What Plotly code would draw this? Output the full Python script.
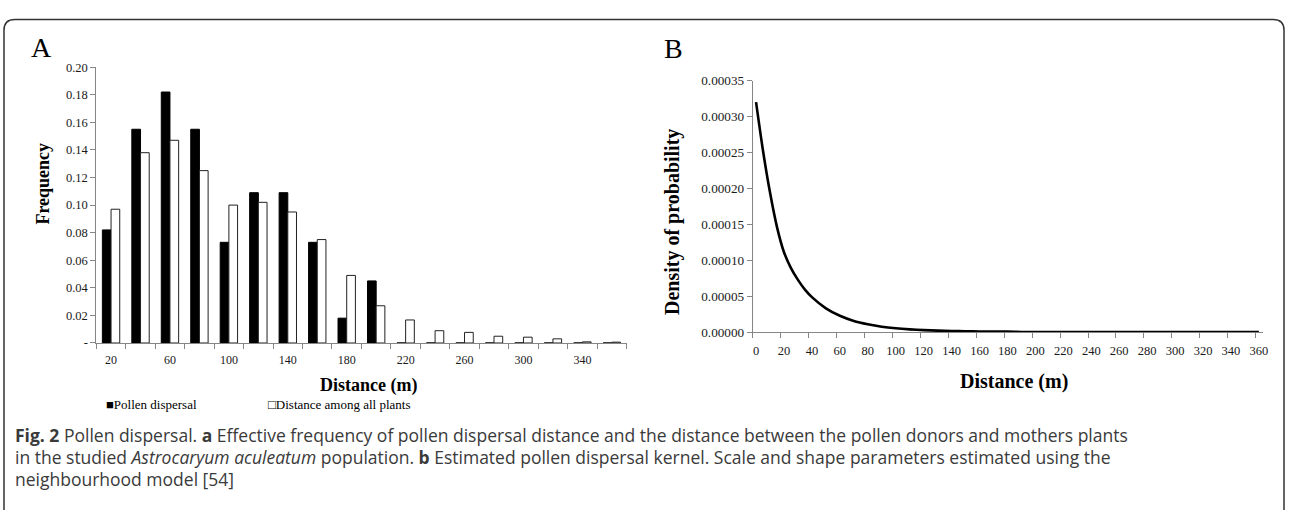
import plotly.graph_objects as go

# ---------------- data ----------------
# Panel A: frequency histogram (distance classes in m)
dist_classes = [20, 40, 60, 80, 100, 120, 140, 160, 180, 200, 220, 240, 260, 280, 300, 320, 340, 360]
pollen_dispersal = [0.082, 0.155, 0.182, 0.155, 0.073, 0.109, 0.109, 0.073, 0.018, 0.045,
                    0, 0, 0, 0, 0, 0, 0, 0]
distance_all_plants = [0.097, 0.138, 0.147, 0.125, 0.100, 0.102, 0.095, 0.075, 0.049, 0.027,
                       0.0167, 0.0089, 0.0077, 0.0049, 0.0042, 0.0030, 0.0008, 0.0006]
a_tick_vals = [0, 0.02, 0.04, 0.06, 0.08, 0.10, 0.12, 0.14, 0.16, 0.18, 0.20]
a_tick_text = ["-", "0.02", "0.04", "0.06", "0.08", "0.10", "0.12", "0.14", "0.16", "0.18", "0.20"]
a_x_labels = [20, 60, 100, 140, 180, 220, 260, 300, 340]

# Panel B: estimated pollen dispersal kernel
kernel_x = [0, 5, 10, 15, 20, 25, 30, 35, 40, 50, 60, 70, 80, 90, 100, 110, 120, 130, 140, 150,
            160, 170, 180, 190, 200, 220, 240, 260, 280, 300, 320, 340, 360]
kernel_y = [0.000320, 0.000252, 0.000194, 0.000146, 0.000111, 0.0000890, 0.0000725, 0.0000590,
            0.0000485, 0.0000330, 0.0000226, 0.0000154, 0.0000108, 0.0000074, 0.0000052,
            0.0000037, 0.0000026, 0.0000019, 0.0000014, 0.0000011, 0.0000008, 0.0000006,
            0.0000005, 0.0000001, 0.0, 0.0, 0.0, 0.0, 0.0, 0.0, 0.0, 0.0, 0.0]
b_x_ticks = list(range(0, 361, 20))
b_y_ticks = [0, 0.00005, 0.00010, 0.00015, 0.00020, 0.00025, 0.00030, 0.00035]

W, H = 1292, 518
def px(x):
    return x / W
def py(y):
    return 1 - y / H

SERIF = "Liberation Serif, Times New Roman, serif"
AXIS_GRAY = "#868686"
TEXT = "#1a1a1a"
B_TICK_OFFSET = 2.35  # tick marks sit slightly left of the category labels

fig = go.Figure()

fig.add_trace(go.Bar(
    x=dist_classes, y=pollen_dispersal, name="Pollen dispersal",
    marker=dict(color="#000000", line=dict(color="#000000", width=1)),
    xaxis="x", yaxis="y", showlegend=False,
))
fig.add_trace(go.Bar(
    x=dist_classes, y=distance_all_plants, name="Distance among all plants",
    marker=dict(color="#ffffff", line=dict(color="#222222", width=1)),
    xaxis="x", yaxis="y", showlegend=False,
))
fig.add_trace(go.Scatter(
    x=kernel_x, y=kernel_y, mode="lines", line=dict(color="#000000", width=2.6, shape="spline", smoothing=0.8),
    xaxis="x2", yaxis="y2", showlegend=False, name="Kernel",
))

fig.update_layout(
    width=W, height=H,
    margin=dict(l=0, r=0, t=0, b=0),
    paper_bgcolor="white", plot_bgcolor="white",
    barmode="group", bargap=0.41, bargroupgap=0,
    font=dict(family=SERIF, color=TEXT),
    xaxis=dict(
        domain=[px(96.7), px(629)], range=[10, 370], anchor="y",
        showgrid=False, zeroline=False, showline=True, linecolor=AXIS_GRAY, linewidth=1,
        tickmode="array", tickvals=a_x_labels, ticktext=[str(v) for v in a_x_labels],
        ticks="outside", ticklen=6, tickcolor="rgba(0,0,0,0)",
        tickfont=dict(family=SERIF, size=12, color=TEXT),
        minor=dict(tickvals=list(range(10, 371, 20)), ticks="outside", ticklen=5,
                   tickcolor=AXIS_GRAY, showgrid=False),
    ),
    yaxis=dict(
        domain=[py(346), py(62)], range=[0, 0.20], anchor="x",
        showgrid=False, zeroline=False, showline=True, linecolor=AXIS_GRAY, linewidth=1,
        tickmode="array", tickvals=a_tick_vals, ticktext=a_tick_text,
        ticks="outside", ticklen=5, tickcolor=AXIS_GRAY,
        tickfont=dict(family=SERIF, size=12.5, color=TEXT),
    ),
    xaxis2=dict(
        domain=[px(755.7), px(1268)], range=[-B_TICK_OFFSET, 363], anchor="y2",
        showgrid=False, zeroline=False, showline=True, linecolor=AXIS_GRAY, linewidth=1,
        tickmode="array", tickvals=b_x_ticks,
        ticks="outside", ticklen=7, tickcolor="rgba(0,0,0,0)",
        tickfont=dict(family=SERIF, size=12.5, color=TEXT),
        minor=dict(tickvals=[v - B_TICK_OFFSET for v in b_x_ticks], ticks="outside", ticklen=5,
                   tickcolor=AXIS_GRAY, showgrid=False),
    ),
    yaxis2=dict(
        domain=[py(334.7), py(75.7)], range=[0, 0.00035], anchor="x2",
        showgrid=False, zeroline=False, showline=True, linecolor=AXIS_GRAY, linewidth=1,
        tickmode="array", tickvals=b_y_ticks, tickformat=".5f",
        ticks="outside", ticklen=5, tickcolor=AXIS_GRAY,
        tickfont=dict(family=SERIF, size=13.2, color=TEXT),
    ),
)

# outer rounded frame
r = 11
x0, x1, y0, y1 = 4, 1289, 13, 518
path = (f"M {px(x0)},{py(y1)} L {px(x0)},{py(y0 + r)} Q {px(x0)},{py(y0)} {px(x0 + r)},{py(y0)} "
        f"L {px(x1 - r)},{py(y0)} Q {px(x1)},{py(y0)} {px(x1)},{py(y0 + r)} L {px(x1)},{py(y1)}")
fig.add_shape(type="path", path=path, xref="paper", yref="paper",
              line=dict(color="#333333", width=1.5))

ann = []
# panel letters
ann.append(dict(text="A", x=px(29), y=py(42), xanchor="left", yanchor="middle",
                font=dict(family=SERIF, size=28, color="#000")))
ann.append(dict(text="B", x=px(665), y=py(43), xanchor="left", yanchor="middle",
                font=dict(family=SERIF, size=28, color="#000")))
# axis titles
ann.append(dict(text="<b>Frequency</b>", x=px(43), y=py(182), textangle=-90,
                xanchor="center", yanchor="middle", font=dict(family=SERIF, size=18, color="#000")))
ann.append(dict(text="<b>Distance (m)</b>", x=px(370), y=py(390),
                xanchor="center", yanchor="middle", font=dict(family=SERIF, size=18, color="#000")))
ann.append(dict(text="<b>Density of probability</b>", x=px(675), y=py(221), textangle=-90,
                xanchor="center", yanchor="middle", font=dict(family=SERIF, size=20, color="#000")))
ann.append(dict(text="<b>Distance (m)</b>", x=px(1018), y=py(386),
                xanchor="center", yanchor="middle", font=dict(family=SERIF, size=20, color="#000")))
# legend
ann.append(dict(text="\u25A0Pollen dispersal", x=px(104), y=py(409), xanchor="left", yanchor="middle",
                font=dict(family=SERIF, size=13, color="#000")))
ann.append(dict(text="\u25A1Distance among all plants", x=px(267), y=py(409), xanchor="left", yanchor="middle",
                font=dict(family=SERIF, size=13, color="#000")))
# caption
CAP = "Open Sans, Noto Sans, sans-serif"
cap_lines = [
    "<b>Fig. 2</b> Pollen dispersal. <b>a</b> Effective frequency of pollen dispersal distance and the distance between the pollen donors and mothers plants",
    "in the studied <i>Astrocaryum aculeatum</i> population. <b>b</b> Estimated pollen dispersal kernel. Scale and shape parameters estimated using the",
    "neighbourhood model [54]",
]
for i, line in enumerate(cap_lines):
    ann.append(dict(text=line, x=px(13), y=py(441 + 22.5 * i), xanchor="left", yanchor="middle",
                    font=dict(family=CAP, size=17.5, color="#3a3a3a")))

for a in ann:
    a.update(xref="paper", yref="paper", showarrow=False)
fig.update_layout(annotations=ann)

fig.write_html("out.html", config={"displayModeBar": False},
               post_script="document.body.style.margin='0';document.body.style.overflow='hidden';")
